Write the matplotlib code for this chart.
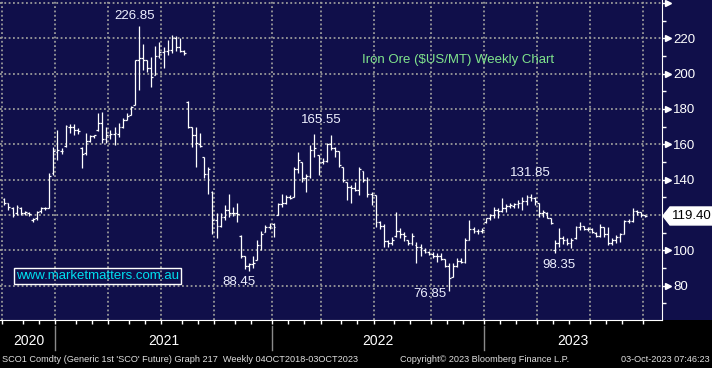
import matplotlib
matplotlib.use("Agg")
import matplotlib.pyplot as plt
import matplotlib.transforms as mtransforms
from matplotlib.patches import Rectangle, Polygon
from matplotlib.ticker import MultipleLocator
import numpy as np
import pandas as pd

plt.rcParams["font.family"] = ["Liberation Sans", "DejaVu Sans"]

# weekly SCO1 bars, Oct-2020 .. Oct-2023
highs = [129.5, 127.0, 124.5, 125.6, 124.5, 122.0, 121.5, 118.5, 122.5, 124.5,
         124.5, 144.0, 158.5, 168.0, 158.0, 171.0, 171.5, 171.5, 169.0, 158.5,
         166.5, 165.0, 165.5, 177.7, 178.0, 170.0, 168.0, 170.0, 172.0, 175.0,
         177.5, 181.5, 207.7, 226.85, 217.0, 208.0, 209.4, 215.5, 218.0, 215.0,
         219.0, 222.0, 221.5, 220.0, 213.5, 184.5, 170.0, 170.0, 166.5, 153.0,
         147.0, 133.5, 121.0, 121.0, 125.7, 132.0, 124.5, 127.0, 108.5, 96.5,
         93.0, 97.0, 105.8, 111.0, 114.5, 115.5, 115.5, 126.6, 132.0, 131.0,
         131.0, 147.0, 155.5, 150.0, 143.0, 159.6, 165.55, 154.0, 152.0, 161.0,
         165.0, 158.5, 156.0, 147.0, 138.7, 137.0, 138.7, 147.0, 145.0, 141.6,
         133.0, 131.0, 116.5, 115.0, 106.0, 107.5, 121.6, 112.5, 110.5, 106.0,
         110.0, 104.5, 103.5, 101.5, 99.5, 99.0, 98.5, 98.5, 95.0, 92.6,
         92.6, 95.5, 95.5, 107.0, 117.0, 113.0, 112.0, 112.5, 118.5, 120.5,
         124.5, 124.0, 129.5, 126.0, 127.0, 127.0, 128.4, 130.0, 131.0, 131.85,
         130.0, 127.0, 123.0, 121.7, 118.0, 106.0, 112.6, 108.0, 107.0, 107.0,
         114.0, 116.0, 114.0, 113.0, 112.5, 110.5, 115.0, 113.0, 113.0, 107.0,
         108.7, 110.0, 117.0, 117.5, 124.0, 122.8, 121.5, 120.0]
lows = [125.5, 122.8, 119.0, 120.0, 120.0, 120.0, 119.5, 116.0, 117.0, 121.0,
        123.0, 124.0, 142.5, 151.0, 154.5, 158.5, 166.5, 165.0, 166.0, 146.5,
        154.0, 161.5, 163.5, 167.5, 160.7, 160.7, 163.0, 159.6, 164.0, 169.0,
        173.5, 176.5, 182.0, 190.7, 202.0, 201.0, 192.4, 199.0, 209.0, 203.0,
        210.5, 211.5, 213.0, 212.0, 210.5, 169.0, 158.5, 147.0, 158.5, 141.0,
        132.0, 109.0, 107.0, 113.0, 117.0, 119.0, 119.5, 116.0, 95.5, 89.5,
        88.45, 90.0, 94.5, 100.0, 110.5, 112.0, 107.5, 120.0, 124.5, 126.0,
        129.0, 130.0, 144.0, 138.7, 133.0, 141.0, 153.0, 142.6, 149.0, 150.0,
        156.7, 153.0, 147.0, 138.7, 128.5, 126.6, 133.5, 131.0, 138.7, 130.0,
        125.6, 113.0, 112.0, 102.0, 102.0, 103.0, 107.5, 107.0, 105.5, 103.0,
        103.0, 93.0, 96.5, 98.5, 97.5, 95.5, 93.5, 94.5, 90.5, 76.85,
        84.7, 90.5, 92.6, 92.6, 106.0, 110.0, 109.0, 110.0, 115.5, 117.0,
        118.0, 118.0, 121.7, 121.7, 124.0, 124.0, 124.0, 122.8, 125.6, 128.0,
        125.6, 118.8, 118.8, 118.0, 115.0, 98.35, 102.0, 103.5, 103.0, 101.0,
        106.5, 111.5, 111.5, 111.0, 110.0, 107.5, 107.6, 107.6, 103.0, 103.0,
        104.0, 104.5, 109.0, 115.5, 116.0, 120.0, 119.0, 118.8]
opens = [129.0, 126.5, 124.0, 121.0, 124.0, 121.0, 121.0, 117.0, 118.0, 122.0,
         124.0, 124.0, 144.0, 155.5, 156.0, 159.0, 170.0, 170.0, 168.0, 158.0,
         155.0, 162.0, 164.5, 168.0, 172.0, 163.0, 165.0, 166.0, 166.0, 170.0,
         174.0, 176.5, 182.5, 207.5, 209.0, 208.0, 203.0, 199.0, 210.0, 212.0,
         213.0, 213.5, 220.0, 215.0, 213.0, 184.0, 170.0, 165.0, 160.0, 153.0,
         143.0, 133.0, 117.0, 114.0, 119.0, 123.0, 121.0, 121.0, 108.0, 97.0,
         91.0, 92.0, 94.5, 103.0, 110.5, 113.0, 115.0, 120.0, 126.0, 126.5,
         130.0, 130.0, 146.0, 150.0, 141.0, 142.0, 157.0, 154.0, 150.0, 150.5,
         160.0, 158.0, 156.0, 147.0, 138.5, 136.0, 135.0, 134.0, 145.0, 140.0,
         132.0, 131.0, 116.0, 114.0, 105.0, 104.0, 108.0, 111.0, 109.0, 106.0,
         104.0, 103.0, 102.0, 100.0, 99.0, 98.0, 97.0, 96.5, 95.0, 91.0,
         84.7, 91.0, 94.0, 93.5, 106.0, 112.0, 111.0, 111.0, 116.0, 118.0,
         120.0, 123.0, 122.0, 124.0, 125.0, 125.0, 126.0, 127.0, 128.0, 130.0,
         129.5, 127.0, 121.0, 121.0, 118.0, 100.0, 104.0, 107.0, 106.0, 104.0,
         107.0, 113.0, 114.0, 112.0, 112.0, 110.0, 108.0, 113.0, 109.0, 104.0,
         106.0, 107.5, 109.0, 116.5, 116.5, 122.5, 121.5, 120.0]
closes = [126.5, 124.5, 120.0, 124.5, 121.0, 121.5, 120.5, 117.5, 121.5, 124.0,
          124.2, 142.0, 156.0, 156.5, 156.0, 170.3, 170.0, 168.0, 167.5, 154.5,
          162.0, 164.5, 165.0, 172.0, 163.0, 165.0, 166.0, 166.5, 170.0, 174.0,
          176.0, 181.0, 207.5, 209.0, 208.0, 203.0, 198.0, 210.0, 212.0, 213.0,
          213.5, 220.0, 215.0, 213.0, 211.5, 170.0, 165.0, 160.5, 159.0, 143.0,
          146.0, 117.0, 114.0, 119.0, 123.0, 121.0, 121.0, 120.5, 97.0, 91.0,
          92.0, 93.0, 103.0, 109.0, 113.0, 114.0, 113.0, 126.0, 126.5, 130.0,
          129.5, 146.0, 151.0, 141.0, 142.0, 157.0, 158.0, 150.0, 150.5, 160.0,
          158.0, 156.0, 148.0, 139.5, 136.0, 135.0, 134.0, 146.0, 140.0, 132.0,
          131.0, 116.0, 114.0, 105.0, 104.0, 106.0, 111.0, 109.0, 108.0, 104.0,
          108.0, 102.0, 101.0, 99.0, 98.0, 97.0, 96.5, 95.0, 91.0, 84.0,
          91.0, 94.0, 93.5, 106.0, 112.0, 111.0, 111.0, 111.5, 118.0, 120.0,
          123.0, 122.5, 124.0, 125.0, 125.5, 126.0, 127.0, 128.0, 130.0, 129.5,
          128.0, 121.0, 121.5, 118.5, 115.5, 104.0, 107.0, 106.0, 104.0, 106.0,
          113.0, 114.0, 112.0, 112.0, 110.5, 108.0, 113.0, 109.0, 104.0, 106.0,
          107.5, 109.0, 116.5, 116.5, 122.5, 121.5, 120.0, 119.4]

peak_labels = [226.85, 165.55, 131.85]
trough_labels = [88.45, 76.85, 98.35]
years = [2020, 2021, 2022, 2023]
y_ticks = [80, 100, 120, 140, 160, 180, 200, 220, 240]

highs = np.array(highs)
lows = np.array(lows)
x = np.arange(len(closes))
bar_dates = pd.date_range(end="2023-10-06", periods=len(closes), freq="7D")

navy = "#100f4a"
grid_col = "#9a9a9a"
W, H = 712, 368

fig = plt.figure(figsize=(W / 100, H / 100), dpi=100, facecolor="black")
ax = fig.add_axes([0, 48 / H, 662 / W, 320 / H])
ax.set_facecolor(navy)
fig.patches.append(Rectangle((662 / W, 48 / H), 50 / W, 320 / H, transform=fig.transFigure,
                             facecolor=navy, edgecolor="none", zorder=-1))

ax.set_xlim(-1.08, 161.2)
ax.set_ylim(60.5, 241.7)

# dotted grid: horizontal every 20, vertical at each quarter
for v in y_ticks:
    ax.axhline(v, color=grid_col, lw=1.3, ls=(0, (1, 1.4)), zorder=1)
q_pos = [np.searchsorted(bar_dates, d) - 0.5 for d in pd.date_range("2020-10-01", "2023-10-01", freq="QS")]
for q in q_pos:
    ax.axvline(q, color=grid_col, lw=1.3, ls=(0, (1, 1.4)), zorder=1)

# OHLC bars
ax.vlines(x, lows, highs, color="white", lw=0.9, zorder=3)
ax.hlines(opens, x - 0.45, x, color="white", lw=0.9, zorder=3)
ax.hlines(closes, x, x + 0.45, color="white", lw=0.9, zorder=3)

# spines / axes
for s in ["left", "top"]:
    ax.spines[s].set_visible(False)
ax.spines["right"].set_color("white")
ax.spines["bottom"].set_color("white")
ax.yaxis.tick_right()
ax.set_yticks(y_ticks)
# 240 sits on the top edge and 120 is hidden under the last-price tag
ax.set_yticklabels([str(v) if v not in (120, 240) else "" for v in y_ticks])
ax.yaxis.set_minor_locator(MultipleLocator(10))
ax.tick_params(axis="y", which="major", colors="white", length=3, width=1, pad=5, labelsize=9.5)
ax.tick_params(axis="y", which="minor", colors="white", length=3, width=1)

tri_trans = mtransforms.offset_copy(mtransforms.blended_transform_factory(ax.transAxes, ax.transData),
                                    fig=fig, x=6, y=0, units="dots")
ax.plot(np.ones(len(y_ticks)), y_ticks, ls="none", marker=">", ms=4.5, color="white",
        transform=tri_trans, clip_on=False)

m_pos = [np.searchsorted(bar_dates, d) - 0.5 for d in pd.date_range("2020-10-01", "2023-10-01", freq="MS")]
ax.set_xticks(m_pos)
ax.set_xticklabels([])
ax.tick_params(axis="x", colors="white", length=3, width=1, direction="out")

# year labels under the axis
xl0, xl1 = ax.get_xlim()
bt = mtransforms.blended_transform_factory(ax.transData, ax.transAxes)
starts = [np.searchsorted(bar_dates, pd.Timestamp(f"{y}-01-01")) - 0.5 for y in years]
for k, yr in enumerate(years):
    a = max(starts[k], xl0)
    b = min(starts[k + 1], xl1) if k + 1 < len(years) else xl1
    ax.text((a + b) / 2, -0.066, str(yr), transform=bt, ha="center", va="center", color="white",
            fontsize=10, family=["Liberation Sans Narrow", "Liberation Sans", "DejaVu Sans"])
    if k > 0:
        ax.plot([starts[k], starts[k]], [-0.02, -0.095], transform=bt, color="#8a8a8a", lw=1, clip_on=False)

# high / low callouts
lab_col = "#eef0ff"
peak_off = [(-4, 10), (7, 14), (0, 21)]
for val, (dx, dy) in zip(peak_labels, peak_off):
    i = int(np.argmin(np.abs(highs - val)))
    ax.annotate(f"{val:.2f}", xy=(i, val), xytext=(dx, dy), textcoords="offset pixels",
                ha="center", va="center", color=lab_col, fontsize=9.5)
trough_off = [(-10, -11), (-19, -3), (4, -12)]
for val, (dx, dy) in zip(trough_labels, trough_off):
    i = int(np.argmin(np.abs(lows - val)))
    ax.annotate(f"{val:.2f}", xy=(i, val), xytext=(dx, dy), textcoords="offset pixels",
                ha="center", va="center", color=lab_col, fontsize=9.5)

ax.text(0.547, 0.8125, "Iron Ore ($US/MT) Weekly Chart", transform=ax.transAxes, color="#80e48c",
        fontsize=9.5, ha="left", va="center")
ax.text(0.0235, 0.1375, "www.marketmatters.com.au", transform=ax.transAxes, color="#00e0f0",
        fontsize=9.5, ha="left", va="center",
        bbox=dict(boxstyle="square,pad=0.15", fc="none", ec="white", lw=1))

# last price tag
ident = mtransforms.IdentityTransform()
yd = ax.transData.transform((0, closes[-1]))[1]
xa = ax.transAxes.transform((1, 0))[0]
fig.add_artist(Polygon([(xa + 1, yd), (xa + 8, yd + 9), (W + 2, yd + 9), (W + 2, yd - 9), (xa + 8, yd - 9)],
                       closed=True, transform=ident, fc="white", ec="white", zorder=10))
fig.text(xa + 10, yd, f"{closes[-1]:.2f}", transform=ident, ha="left", va="center",
         color="black", fontsize=9.5, zorder=11)

# footer
foot = dict(color="#e0e0e0", fontsize=6.6, va="center",
            family=["Liberation Sans Narrow", "Liberation Sans", "DejaVu Sans"])
fig.text(2 / W, 8 / H, "SCO1 Comdty (Generic 1st 'SCO' Future) Graph 217  Weekly 04OCT2018-03OCT2023",
         ha="left", **foot)
fig.text(400 / W, 8 / H, "Copyright\u00a9 2023 Bloomberg Finance L.P.", ha="left", **foot)
fig.text(710 / W, 8 / H, "03-Oct-2023 07:46:23", ha="right", **foot)

fig.savefig("out.png", dpi=100, facecolor="black")
